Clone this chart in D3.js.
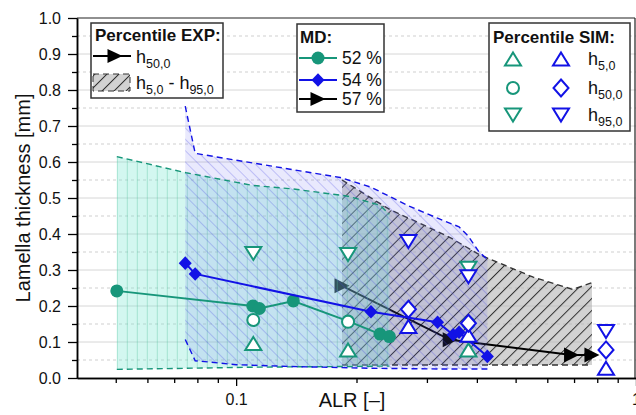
<!DOCTYPE html>
<html>
<head>
<meta charset="utf-8">
<script src="https://cdn.jsdelivr.net/npm/d3@7"></script>
<style>
  body { margin: 0; background: #fff; }
  svg { font-family: "Liberation Sans", Arial, sans-serif; }
</style>
</head>
<body>
<div id="plot"></div>
<script>
// MD series (h50,0 of the experiments)
const md52X = [0.0503, 0.1101, 0.1143, 0.139, 0.1905, 0.229, 0.2417];
const md52Y = [0.242, 0.200, 0.193, 0.214, 0.158, 0.122, 0.115];
const md54X = [0.0746, 0.079, 0.2174, 0.319, 0.349, 0.361, 0.425];
const md54Y = [0.319, 0.289, 0.184, 0.155, 0.120, 0.127, 0.060];
const md57X = [0.184, 0.343, 0.69, 0.776];
const md57Y = [0.256, 0.106, 0.064, 0.064];

// EXP percentile bands h5,0 - h95,0
const band52X  = [0.0503, 0.075, 0.1101, 0.139, 0.1905, 0.229, 0.2417];
const band52Lo = [0.024, 0.027, 0.030, 0.031, 0.032, 0.033, 0.033];
const band52Hi = [0.615, 0.570, 0.535, 0.525, 0.505, 0.480, 0.455];

const band54X  = [0.0746, 0.079, 0.1, 0.1365, 0.182, 0.2174, 0.27, 0.319, 0.361, 0.38, 0.405, 0.425];
const band54Lo = [0.107, 0.048, 0.037, 0.032, 0.029, 0.027, 0.026, 0.025, 0.025, 0.025, 0.025, 0.025];
const band54Hi = [0.755, 0.624, 0.605, 0.580, 0.557, 0.530, 0.478, 0.444, 0.420, 0.395, 0.350, 0.330];

const band57X  = [0.184, 0.243, 0.288, 0.343, 0.407, 0.5535, 0.6954, 0.776];
const band57Lo = [0.036, 0.036, 0.036, 0.036, 0.036, 0.036, 0.036, 0.036];
const band57Hi = [0.550, 0.467, 0.430, 0.390, 0.342, 0.280, 0.246, 0.265];

// SIM percentiles
const sim52X   = [0.1104, 0.1905, 0.381];
const sim52H5  = [0.096, 0.078, 0.078];
const sim52H50 = [0.161, 0.156, 0.152];
const sim52H95 = [0.346, 0.343, 0.305];
const sim54X   = [0.2697, 0.381, 0.8414];
const sim54H5  = [0.143, 0.119, 0.027];
const sim54H50 = [0.191, 0.152, 0.078];
const sim54H95 = [0.379, 0.281, 0.129];

const yMajor = [0, 0.1, 0.2, 0.3, 0.4, 0.5, 0.6, 0.7, 0.8, 0.9, 1.0];
const yMinor = [0.05, 0.15, 0.25, 0.35, 0.45, 0.55, 0.65, 0.75, 0.85, 0.95];
const xMajor = [0.1, 1];
const xMinor = [0.05, 0.06, 0.07, 0.08, 0.09, 0.2, 0.3, 0.4, 0.5, 0.6, 0.7, 0.8, 0.9];

const GREEN = "#17967a", BLUE = "#1212e6", BLACK = "#000";

const width = 636, height = 415;
const mLeft = 77, mRight = 636, mTop = 18, mBottom = 378;

const svg = d3.select("#plot").append("svg")
  .attr("width", width).attr("height", height);

const x = d3.scaleLog().domain([0.04, 1]).range([mLeft, mRight]);
const y = d3.scaleLinear().domain([0, 1]).range([mBottom, mTop]);

// patterns
const defs = svg.append("defs");
defs.append("pattern").attr("id", "hGreen")
  .attr("patternUnits", "userSpaceOnUse").attr("width", 10).attr("height", 10)
  .attr("x", x(band52X[0]))
  .append("line").attr("x1", 0.5).attr("x2", 0.5).attr("y1", 0).attr("y2", 10)
  .attr("stroke", "#55c29f").attr("stroke-width", 1).attr("stroke-opacity", 0.38);
defs.append("pattern").attr("id", "hBlue")
  .attr("patternUnits", "userSpaceOnUse").attr("width", 8).attr("height", 8)
  .attr("patternTransform", "rotate(-45)")
  .append("line").attr("x1", 0.5).attr("x2", 0.5).attr("y1", 0).attr("y2", 8)
  .attr("stroke", "#4848e0").attr("stroke-width", 0.8).attr("stroke-opacity", 0.34);
defs.append("pattern").attr("id", "hGray")
  .attr("patternUnits", "userSpaceOnUse").attr("width", 8.5).attr("height", 8.5)
  .attr("patternTransform", "rotate(45)")
  .append("line").attr("x1", 0.5).attr("x2", 0.5).attr("y1", 0).attr("y2", 8.5)
  .attr("stroke", "#333").attr("stroke-width", 1);

// gridlines
svg.append("g").selectAll("line").data(yMinor).enter().append("line")
  .attr("x1", mLeft).attr("x2", mRight).attr("y1", d => y(d)).attr("y2", d => y(d))
  .attr("stroke", "#cfcfcf").attr("stroke-dasharray", "3,3");
svg.append("g").selectAll("line").data(yMajor.filter(d => d > 0 && d < 1)).enter().append("line")
  .attr("x1", mLeft).attr("x2", mRight).attr("y1", d => y(d)).attr("y2", d => y(d))
  .attr("stroke", "#d6d6d6");

// marker shapes
const triUp = (w, h) => `M0,${-h / 2}L${w / 2},${h / 2}L${-w / 2},${h / 2}Z`;
const triDown = (w, h) => `M0,${h / 2}L${w / 2},${-h / 2}L${-w / 2},${-h / 2}Z`;
const triRight = (w, h) => `M${w / 2},0L${-w / 2},${h / 2}L${-w / 2},${-h / 2}Z`;
const diamond = (rx, ry) => `M0,${-ry}L${rx},0L0,${ry}L${-rx},0Z`;

function band(xs, lo, hi, fill, opacity, hatch, stroke) {
  const pts = xs.map((d, i) => ({ x: d, lo: lo[i], hi: hi[i] }));
  const area = d3.area().x(d => x(d.x)).y0(d => y(d.lo)).y1(d => y(d.hi));
  const g = svg.append("g");
  g.append("path").datum(pts).attr("d", area).attr("fill", fill).attr("fill-opacity", opacity);
  g.append("path").datum(pts).attr("d", area).attr("fill", `url(#${hatch})`);
  return { g, pts, stroke };
}
function bandEdges(b) {
  const lineHi = d3.line().x(d => x(d.x)).y(d => y(d.hi));
  const lineLo = d3.line().x(d => x(d.x)).y(d => y(d.lo));
  [lineHi, lineLo].forEach(l => {
    svg.append("path").datum(b.pts).attr("d", l).attr("fill", "none")
      .attr("stroke", b.stroke).attr("stroke-width", 1.4).attr("stroke-dasharray", "6,4");
  });
}
function series(xs, ys, color, shape) {
  const pts = xs.map((d, i) => ({ x: d, y: ys[i] }));
  const g = svg.append("g");
  g.append("path").datum(pts).attr("d", d3.line().x(d => x(d.x)).y(d => y(d.y)))
    .attr("fill", "none").attr("stroke", color).attr("stroke-width", 2);
  g.selectAll("path.m").data(pts).enter().append("path").attr("class", "m")
    .attr("transform", d => `translate(${x(d.x)},${y(d.y)})`)
    .attr("d", shape).attr("fill", color);
}
function simMarks(xs, ys, color, shape) {
  svg.append("g").selectAll("path").data(xs.map((d, i) => ({ x: d, y: ys[i] }))).enter()
    .append("path")
    .attr("transform", d => `translate(${x(d.x)},${y(d.y)})`)
    .attr("d", shape).attr("fill", "#fff").attr("stroke", color).attr("stroke-width", 2);
}

// gray EXP band (MD 57 %) and its h50 line, then translucent bands above
const b57 = band(band57X, band57Lo, band57Hi, "#b4b4b4", 0.6, "hGray", "#333");
bandEdges(b57);
series(md57X, md57Y, BLACK, triRight(15, 15));
const b52 = band(band52X, band52Lo, band52Hi, "#78e6d0", 0.33, "hGreen", GREEN);
const b54 = band(band54X, band54Lo, band54Hi, "#6a6af0", 0.15, "hBlue", BLUE);
bandEdges(b52);
bandEdges(b54);

series(md52X, md52Y, GREEN, d3.symbol(d3.symbolCircle, Math.PI * 6.5 * 6.5)());
series(md54X, md54Y, BLUE, diamond(6.5, 6.8));

simMarks(sim52X, sim52H95, GREEN, triDown(16, 13));
simMarks(sim52X, sim52H50, GREEN, d3.symbol(d3.symbolCircle, Math.PI * 36)());
simMarks(sim52X, sim52H5, GREEN, triUp(16, 13));
simMarks(sim54X, sim54H95, BLUE, triDown(16, 13));
simMarks(sim54X, sim54H5, BLUE, triUp(16, 13));
simMarks(sim54X, sim54H50, BLUE, diamond(7.5, 8.5));

// frame
svg.append("line").attr("x1", mLeft).attr("x2", 635).attr("y1", mTop).attr("y2", mTop)
  .attr("stroke", "#222").attr("stroke-width", 1.2);
svg.append("line").attr("x1", 635).attr("x2", 635).attr("y1", mTop).attr("y2", mBottom)
  .attr("stroke", "#222").attr("stroke-width", 1.2);

// axes
svg.append("g").attr("transform", `translate(${mLeft},0)`)
  .call(d3.axisLeft(y).tickValues(yMajor).tickFormat(d3.format(".1f")).tickSize(9).tickSizeOuter(0).tickPadding(7));
svg.append("g").attr("transform", `translate(${mLeft},0)`)
  .call(d3.axisLeft(y).tickValues(yMinor).tickFormat("").tickSize(5).tickSizeOuter(0));
svg.append("g").attr("transform", `translate(0,${mBottom})`)
  .call(d3.axisBottom(x).tickValues(xMajor).tickFormat(d => d === 1 ? "1" : "0.1").tickSize(8).tickSizeOuter(0).tickPadding(8));
svg.append("g").attr("transform", `translate(0,${mBottom})`)
  .call(d3.axisBottom(x).tickValues(xMinor).tickFormat("").tickSize(5).tickSizeOuter(0));
svg.selectAll(".domain").attr("stroke", "#000").attr("stroke-width", 1.5);
svg.selectAll(".tick line").attr("stroke", "#000").attr("stroke-width", 1.3);
svg.selectAll(".tick text").attr("font-size", 16).attr("fill", "#111")
  .attr("font-family", "Liberation Sans, Arial, sans-serif");

svg.append("text").attr("x", 352).attr("y", 407).attr("text-anchor", "middle")
  .attr("font-size", 20).attr("fill", "#111").text("ALR [–]");
svg.append("text").attr("transform", "translate(30,198) rotate(-90)").attr("text-anchor", "middle")
  .attr("font-size", 20).attr("fill", "#111").text("Lamella thickness [mm]");

// legends
function box(x0, y0, x1, y1) {
  svg.append("rect").attr("x", x0).attr("y", y0).attr("width", x1 - x0).attr("height", y1 - y0)
    .attr("fill", "#fff").attr("stroke", "#333").attr("stroke-width", 1.5);
}
function hLabel(x0, yb, parts) {
  const t = svg.append("text").attr("x", x0).attr("y", yb).attr("font-size", 18).attr("fill", "#111");
  let sub = false;
  parts.forEach(p => {
    const isSub = p.sub === true;
    const ts = t.append("tspan").text(p.t);
    if (isSub) ts.attr("font-size", 12.5);
    if (isSub !== sub) ts.attr("dy", isSub ? 5 : -5);
    sub = isSub;
  });
}

// Percentile EXP
box(91, 23, 223, 98);
svg.append("text").attr("x", 95).attr("y", 41).attr("font-size", 17).attr("font-weight", "bold")
  .attr("fill", "#111").text("Percentile EXP:");
svg.append("line").attr("x1", 93).attr("x2", 131).attr("y1", 56).attr("y2", 56)
  .attr("stroke", BLACK).attr("stroke-width", 2);
svg.append("path").attr("transform", "translate(115,56)").attr("d", triRight(15, 14)).attr("fill", BLACK);
hLabel(136, 63, [{ t: "h" }, { t: "50,0", sub: true }]);
svg.append("rect").attr("x", 93).attr("y", 74).attr("width", 37).attr("height", 17)
  .attr("fill", "#b4b4b4").attr("fill-opacity", 0.6);
svg.append("rect").attr("x", 93).attr("y", 74).attr("width", 37).attr("height", 17)
  .attr("fill", "url(#hGray)").attr("stroke", "#333").attr("stroke-dasharray", "6,4");
hLabel(136, 89, [{ t: "h" }, { t: "5,0", sub: true }, { t: " - h" }, { t: "95,0", sub: true }]);

// MD
box(297, 24, 384, 112);
svg.append("text").attr("x", 300).attr("y", 43).attr("font-size", 17).attr("font-weight", "bold")
  .attr("fill", "#111").text("MD:");
const mdRows = [
  { y: 58, c: GREEN, s: d3.symbol(d3.symbolCircle, Math.PI * 6.5 * 6.5)(), t: "52 %" },
  { y: 80, c: BLUE, s: diamond(6.5, 6.8), t: "54 %" },
  { y: 99, c: BLACK, s: triRight(15, 14), t: "57 %" }
];
mdRows.forEach(r => {
  svg.append("line").attr("x1", 299).attr("x2", 337).attr("y1", r.y).attr("y2", r.y)
    .attr("stroke", r.c).attr("stroke-width", 2);
  svg.append("path").attr("transform", `translate(318,${r.y})`).attr("d", r.s).attr("fill", r.c);
  svg.append("text").attr("x", 342).attr("y", r.y + 6).attr("font-size", 17.5).attr("fill", "#111").text(r.t);
});

// Percentile SIM
box(489, 23, 630, 131);
svg.append("text").attr("x", 493).attr("y", 43).attr("font-size", 17).attr("font-weight", "bold")
  .attr("fill", "#111").text("Percentile SIM:");
const simRows = [
  { y: 59, g: triUp(16, 13), b: triUp(16, 13), sub: "5,0" },
  { y: 88, g: d3.symbol(d3.symbolCircle, Math.PI * 36)(), b: diamond(7.5, 8.5), sub: "50,0" },
  { y: 115, g: triDown(16, 13), b: triDown(16, 13), sub: "95,0" }
];
simRows.forEach(r => {
  svg.append("path").attr("transform", `translate(513,${r.y})`).attr("d", r.g)
    .attr("fill", "#fff").attr("stroke", GREEN).attr("stroke-width", 2);
  svg.append("path").attr("transform", `translate(561,${r.y})`).attr("d", r.b)
    .attr("fill", "#fff").attr("stroke", BLUE).attr("stroke-width", 2);
  hLabel(588, r.y + 6, [{ t: "h" }, { t: r.sub, sub: true }]);
});
</script>
</body>
</html>
